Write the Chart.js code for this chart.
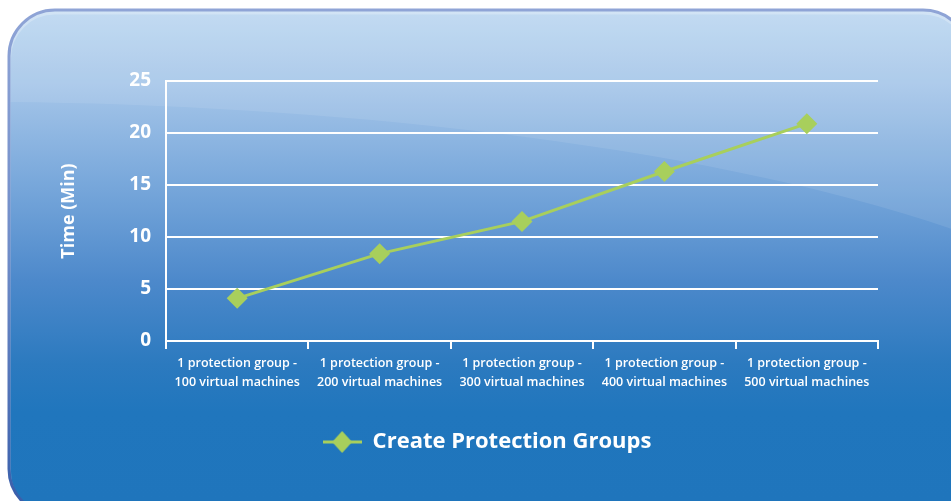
<!DOCTYPE html>
<html>
<head>
<meta charset="utf-8">
<script src="https://cdn.jsdelivr.net/npm/chart.js@4/dist/chart.umd.min.js"></script>
<style>
  html, body { margin: 0; padding: 0; background: #ffffff; }
  #wrap { width: 951px; height: 501px; position: relative; }
</style>
</head>
<body>
<div id="wrap"><canvas id="c" width="951" height="501"></canvas></div>
<script>
const categories = [
  ["1 protection group -", "100 virtual machines"],
  ["1 protection group -", "200 virtual machines"],
  ["1 protection group -", "300 virtual machines"],
  ["1 protection group -", "400 virtual machines"],
  ["1 protection group -", "500 virtual machines"]
];
const seriesName = "Create Protection Groups";
const seriesValues = [4.1, 8.4, 11.5, 16.3, 20.9];
const yTicks = [0, 5, 10, 15, 20, 25];
const yTitle = "Time (Min)";

const GREEN = "#a8cf5c";
const FONT = "'Open Sans', Lato, sans-serif";

// legend marker: line with diamond
const marker = document.createElement('canvas');
marker.width = 39; marker.height = 24;
(function(){
  const m = marker.getContext('2d');
  m.strokeStyle = GREEN; m.lineWidth = 3;
  m.beginPath(); m.moveTo(0, 12); m.lineTo(39, 12); m.stroke();
  m.fillStyle = GREEN;
  m.beginPath(); m.moveTo(19.5, 1); m.lineTo(29.5, 12); m.lineTo(19.5, 23); m.lineTo(9.5, 12); m.closePath(); m.fill();
})();

const bgPlugin = {
  id: 'bg',
  afterLayout(chart) {
    if (chart.legend) { chart.legend.left += 19; chart.legend.right += 19; }
  },
  beforeDraw(chart) {
    const ctx = chart.ctx;
    const x = 9, y = 10, w = 960, h = 505, r = 46;
    ctx.save();
    const path = new Path2D();
    path.moveTo(x + r, y);
    path.lineTo(x + w - r, y);
    path.arcTo(x + w, y, x + w, y + r, r);
    path.lineTo(x + w, y + h - r);
    path.arcTo(x + w, y + h, x + w - r, y + h, r);
    path.lineTo(x + r, y + h);
    path.arcTo(x, y + h, x, y + h - r, r);
    path.lineTo(x, y + r);
    path.arcTo(x, y, x + r, y, r);
    path.closePath();
    const g = ctx.createLinearGradient(0, y, 0, 501);
    g.addColorStop(0.0, '#bdd8f1');
    g.addColorStop(0.15, '#a6c6e9');
    g.addColorStop(0.35, '#79a8db');
    g.addColorStop(0.55, '#4d89cb');
    g.addColorStop(0.72, '#2c7abf');
    g.addColorStop(0.82, '#2076bd');
    g.addColorStop(1.0, '#1f75bc');
    ctx.fillStyle = g;
    ctx.fill(path);
    // highlight above a curve
    ctx.save();
    ctx.clip(path);
    ctx.beginPath();
    ctx.moveTo(0, 0);
    ctx.lineTo(0, 102);
    ctx.bezierCurveTo(300, 104, 700, 140, 960, 232);
    ctx.lineTo(960, 0);
    ctx.closePath();
    ctx.fillStyle = 'rgba(255,255,255,0.09)';
    ctx.fill();
    ctx.restore();
    // inner light line
    ctx.save();
    ctx.clip(path);
    ctx.lineWidth = 4;
    ctx.strokeStyle = 'rgba(255,255,255,0.25)';
    ctx.translate(0, 2.5);
    ctx.stroke(path);
    ctx.restore();
    // border
    const bg = ctx.createLinearGradient(0, y, 0, 501);
    bg.addColorStop(0, '#8fa4d6');
    bg.addColorStop(0.5, '#6f8cc8');
    bg.addColorStop(1, '#3a5fab');
    ctx.lineWidth = 3;
    ctx.strokeStyle = bg;
    ctx.stroke(path);
    ctx.restore();
  }
};

new Chart(document.getElementById('c'), {
  type: 'line',
  data: {
    labels: categories,
    datasets: [{
      label: seriesName,
      data: seriesValues,
      borderColor: GREEN,
      backgroundColor: GREEN,
      borderWidth: 3,
      pointStyle: 'rectRot',
      pointRadius: 10.5,
      pointHoverRadius: 10.5,
      pointBackgroundColor: GREEN,
      pointBorderColor: GREEN,
      pointBorderWidth: 0,
      tension: 0,
      fill: false
    }]
  },
  options: {
    responsive: false,
    animation: false,
    layout: { padding: { left: 58, right: 73, top: 81, bottom: 38 } },
    plugins: {
      tooltip: { enabled: false },
      legend: {
        position: 'bottom',
        labels: {
          color: '#ffffff',
          font: { family: FONT, size: 22, weight: 'bold' },
          usePointStyle: true,
          pointStyleWidth: 39,
          padding: 10,
          generateLabels(chart) {
            const items = Chart.defaults.plugins.legend.labels.generateLabels(chart);
            items.forEach(it => { it.pointStyle = marker; it.fontColor = '#ffffff'; });
            return items;
          }
        }
      }
    },
    scales: {
      x: {
        type: 'category',
        offset: true,
        afterFit(s) { s.height = 80; },
        grid: {
          offset: true,
          drawOnChartArea: false,
          drawTicks: true,
          tickLength: 8,
          color: '#ffffff',
          lineWidth: 2
        },
        border: { display: true, color: '#ffffff', width: 2 },
        ticks: {
          color: '#ffffff',
          font: { family: FONT, size: 12.5, weight: '600', lineHeight: '19px' },
          padding: 5,
          maxRotation: 0,
          autoSkip: false
        }
      },
      y: {
        min: 0,
        max: 25,
        afterFit(s) { s.width = 108; },
        afterBuildTicks(s) { s.ticks = yTicks.map(v => ({ value: v })); },
        grid: {
          drawTicks: false,
          color: '#ffffff',
          lineWidth: 2
        },
        border: { display: true, color: '#ffffff', width: 2 },
        ticks: {
          color: '#ffffff',
          font: { family: FONT, size: 19, weight: 'bold' },
          padding: 15
        },
        title: {
          display: true,
          text: yTitle,
          color: '#ffffff',
          font: { family: FONT, size: 18, weight: 'bold' },
          padding: 0
        }
      }
    }
  },
  plugins: [bgPlugin]
});
</script>
</body>
</html>
